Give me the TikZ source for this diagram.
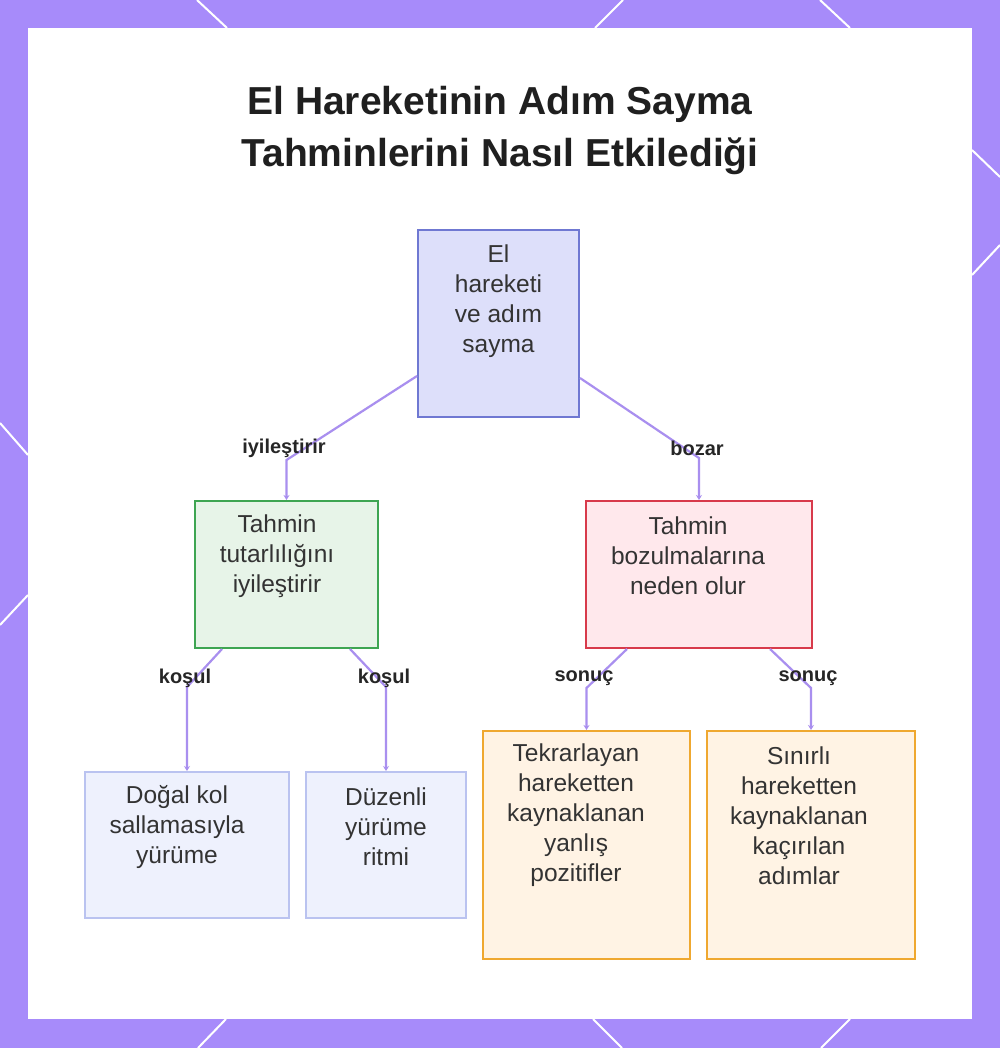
\documentclass[tikz,border=0pt]{standalone}
\usepackage{fontspec}
\setmainfont{Liberation Sans}
\usetikzlibrary{arrows.meta}
\definecolor{frame}{HTML}{A78BFA}
\definecolor{conncol}{HTML}{A98FEF}
\definecolor{txtcol}{HTML}{333333}
\definecolor{topfill}{HTML}{DDDFFA}
\definecolor{topdraw}{HTML}{6F78D2}
\definecolor{grnfill}{HTML}{E7F4E8}
\definecolor{grndraw}{HTML}{3EA552}
\definecolor{redfill}{HTML}{FFE8EC}
\definecolor{reddraw}{HTML}{D83A4B}
\definecolor{blufill}{HTML}{EEF1FD}
\definecolor{bludraw}{HTML}{BAC3F0}
\definecolor{orgfill}{HTML}{FFF3E4}
\definecolor{orgdraw}{HTML}{EFA830}
\tikzset{
  box/.style={draw, line width=2pt, inner sep=0pt},
  txt/.style={align=center, text=txtcol, inner sep=0pt, font=\fontsize{24.5}{30}\selectfont},
  lbl/.style={text=black!85, inner sep=0pt, font=\fontsize{20}{22}\selectfont\bfseries},
  conn/.style={draw=conncol, line width=2.2pt, -{Stealth[length=5pt,width=6pt]}},
  deco/.style={draw=white, line width=2pt}
}
\begin{document}
\begin{tikzpicture}[x=1pt,y=-1pt]
\useasboundingbox (0,0) rectangle (1000,1048);
\fill[frame] (0,0) rectangle (1000,1048);
\draw[deco] (197,0) -- (227,28);
\draw[deco] (623,0) -- (595,28);
\draw[deco] (820,0) -- (850,28);
\draw[deco] (0,423) -- (28,455);
\draw[deco] (28,595) -- (0,625);
\draw[deco] (972,150) -- (1000,177);
\draw[deco] (972,275) -- (1000,245);
\draw[deco] (226,1019) -- (198,1048);
\draw[deco] (593,1019) -- (622,1048);
\draw[deco] (850,1019) -- (821,1048);
\fill[white] (28,28) rectangle (972,1019);

\node[align=center, text=black!88, inner sep=0pt, font=\fontsize{39}{52}\selectfont\bfseries] (title) at (500,131)
  {El Hareketinin Adım Sayma\\Tahminlerini Nasıl Etkilediği};

\node[box, draw=topdraw, fill=topfill, minimum width=161pt, minimum height=187pt] (top) at (498.5,323.5) {};
\node[txt] (toptxt) at (498.5,301) {El\\hareketi\\ve adım\\sayma};

\node[box, draw=grndraw, fill=grnfill, minimum width=183pt, minimum height=147pt] (grn) at (286.5,574.5) {};
\node[txt] (grntxt) at (277,556) {Tahmin\\tutarlılığını\\iyileştirir};

\node[box, draw=reddraw, fill=redfill, minimum width=226pt, minimum height=147pt] (red) at (699,574.5) {};
\node[txt] (redtxt) at (688,556) {Tahmin\\bozulmalarına\\neden olur};

\node[box, draw=bludraw, fill=blufill, minimum width=204pt, minimum height=146pt] (bl) at (187,845) {};
\node[txt] (bltxt) at (177,827) {Doğal kol\\sallamasıyla\\yürüme};

\node[box, draw=bludraw, fill=blufill, minimum width=160pt, minimum height=146pt] (br) at (386,845) {};
\node[txt] (brtxt) at (386,827) {Düzenli\\yürüme\\ritmi};

\node[box, draw=orgdraw, fill=orgfill, minimum width=207pt, minimum height=228pt] (ol) at (586.5,845) {};
\node[txt] (oltxt) at (576,815.5) {Tekrarlayan\\hareketten\\kaynaklanan\\yanlış\\pozitifler};

\node[box, draw=orgdraw, fill=orgfill, minimum width=208pt, minimum height=228pt] (or) at (811,845) {};
\node[txt] (ortxt) at (799,815.5) {Sınırlı\\hareketten\\kaynaklanan\\kaçırılan\\adımlar};

\draw[conn] (top.west |- 0,376) -- (grn.north |- 0,460) -- (grn.north);
\draw[conn] (top.east |- 0,378) -- (red.north |- 0,458) -- (red.north);
\draw[conn] (grn.south -| 222,0) -- (bl.north |- 0,687) -- (bl.north);
\draw[conn] (grn.south -| 350,0) -- (br.north |- 0,687) -- (br.north);
\draw[conn] (red.south -| 627,0) -- (ol.north |- 0,688) -- (ol.north);
\draw[conn] (red.south -| 770,0) -- (or.north |- 0,688) -- (or.north);

\node[lbl] (l1) at (284,448) {iyileştirir};
\node[lbl] (l2) at (697,448) {bozar};
\node[lbl] (l3) at (185,678) {koşul};
\node[lbl] (l4) at (384,678) {koşul};
\node[lbl] (l5) at (584,678) {sonuç};
\node[lbl] (l6) at (808,678) {sonuç};
\end{tikzpicture}
\end{document}
